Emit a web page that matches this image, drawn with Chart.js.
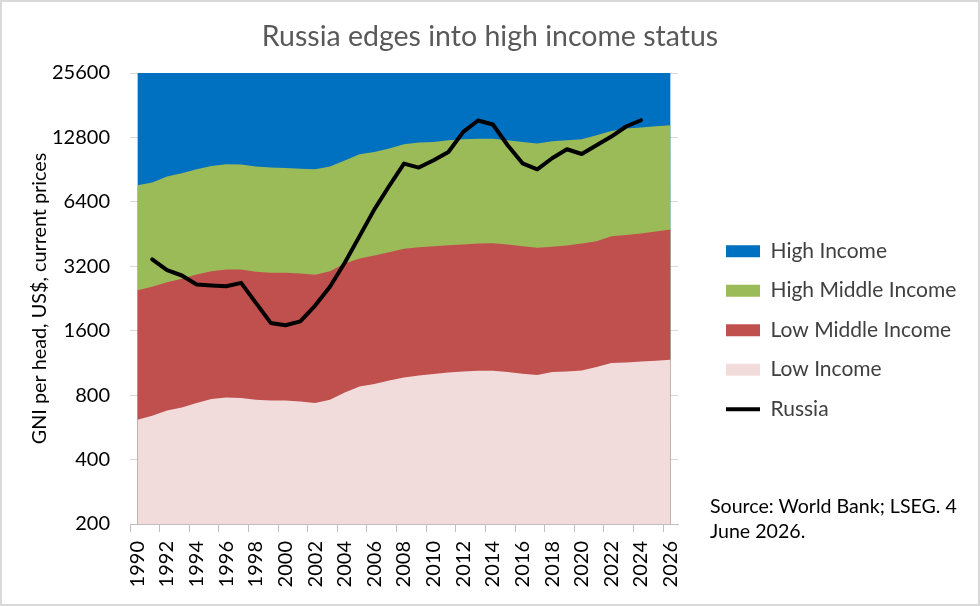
<!DOCTYPE html>
<html>
<head>
  <title>Russia edges into high income status</title>
  <script src="https://cdn.jsdelivr.net/npm/chart.js"></script>
  <style>
    body { margin: 0; background: #fff; font-family: Lato, sans-serif; }
    #wrap { position: relative; width: 980px; height: 606px; }
    #frame { position: absolute; left: 0; top: 0; width: 980px; height: 606px; box-sizing: border-box; border: 2px solid #d9d9d9; pointer-events: none; }
    #source { position: absolute; left: 710px; top: 493px; font-size: 19.6px; line-height: 25px; color: #000; }
  </style>
</head>
<body>
<div id="wrap">
  <canvas id="gniChart" width="980" height="606"></canvas>
  <div id="source">Source: World Bank; LSEG. 4<br>June 2026.</div>
  <div id="frame"></div>
</div>
<script>
const years = ['1990', '1991', '1992', '1993', '1994', '1995', '1996', '1997', '1998', '1999',
  '2000', '2001', '2002', '2003', '2004', '2005', '2006', '2007', '2008', '2009',
  '2010', '2011', '2012', '2013', '2014', '2015', '2016', '2017', '2018', '2019',
  '2020', '2021', '2022', '2023', '2024', '2025', '2026'];

// upper edge of each income band, US$ per head
const lowIncome = [614, 641, 678, 701, 735, 767, 780, 776, 761, 756,
  756, 747, 735, 761, 824, 879, 902, 937, 968, 989,
  1004, 1022, 1033, 1041, 1041, 1026, 1008, 994, 1026, 1033,
  1044, 1083, 1131, 1138, 1150, 1159, 1172];
const lowMiddle = [2473, 2566, 2696, 2797, 2929, 3035, 3092, 3092, 3016, 2984,
  2984, 2962, 2920, 3035, 3299, 3480, 3596, 3726, 3864, 3932,
  3975, 4018, 4048, 4092, 4105, 4048, 3975, 3906, 3950, 4004,
  4092, 4194, 4426, 4475, 4557, 4656, 4758];
const highMiddle = [7647, 7872, 8397, 8702, 9085, 9415, 9588, 9560, 9352, 9254,
  9200, 9140, 9085, 9352, 9980, 10680, 10950, 11350, 11900, 12117,
  12200, 12420, 12550, 12620, 12620, 12420, 12200, 11980, 12300, 12420,
  12550, 13106, 13734, 14088, 14240, 14440, 14600];
const highIncome = [25600, 25600, 25600, 25600, 25600, 25600, 25600, 25600, 25600, 25600,
  25600, 25600, 25600, 25600, 25600, 25600, 25600, 25600, 25600, 25600,
  25600, 25600, 25600, 25600, 25600, 25600, 25600, 25600, 25600, 25600,
  25600, 25600, 25600, 25600, 25600, 25600, 25600];
const russia = [null, 3444, 3068, 2898, 2630, 2602, 2583, 2678, 2159, 1740,
  1696, 1770, 2097, 2566, 3323, 4426, 5902, 7590, 9660, 9254,
  10010, 10950, 13580, 15360, 14710, 11770, 9690, 9085, 10230, 11270,
  10710, 11770, 12920, 14400, 15400, null, null];

const yTicks = [200, 400, 800, 1600, 3200, 6400, 12800, 25600];

const LEGEND_W = 272.5;

Chart.defaults.font.family = 'Lato, sans-serif';

function band(label, data, colour) {
  return {
    label: label,
    data: data,
    backgroundColor: colour,
    borderColor: 'transparent',
    borderWidth: 0,
    fill: 'start',
    pointRadius: 0,
    pointHoverRadius: 0,
    pointStyle: 'rect',
    tension: 0
  };
}

// keep the legend a fixed width so the plot ends where it should
const fixLegendWidth = {
  id: 'fixLegendWidth',
  afterInit(chart) {
    const legend = chart.legend;
    const fit = legend.fit;
    legend.fit = function () {
      fit.call(this);
      this.width = LEGEND_W;
    };
  }
};

const ctx = document.getElementById('gniChart').getContext('2d');
const chart = new Chart(ctx, {
  type: 'line',
  data: {
    labels: years,
    datasets: [
      {
        label: 'Russia',
        data: russia,
        borderColor: '#000',
        backgroundColor: '#000',
        borderWidth: 4,
        borderJoinStyle: 'round',
        borderCapStyle: 'round',
        pointRadius: 0,
        pointHoverRadius: 0,
        pointStyle: 'line',
        fill: false,
        tension: 0
      },
      band('Low Income', lowIncome, '#f2dcdb'),
      band('Low Middle Income', lowMiddle, '#c0504d'),
      band('High Middle Income', highMiddle, '#9bbb59'),
      band('High Income', highIncome, '#0070c0')
    ]
  },
  options: {
    responsive: false,
    animation: false,
    layout: { padding: 0 },
    plugins: {
      title: {
        display: true,
        text: 'Russia edges into high income status',
        color: '#595959',
        font: { size: 28.5, weight: 'normal' },
        padding: { top: 20, bottom: 18.8 }
      },
      legend: {
        position: 'right',
        reverse: true,
        title: { display: true, text: '', padding: { top: 20, bottom: 20 } },
        labels: {
          usePointStyle: true,
          pointStyleWidth: 34,
          boxHeight: 12,
          padding: 18.5,
          color: '#404040',
          font: { size: 21 }
        }
      },
      tooltip: { enabled: false }
    },
    scales: {
      x: {
        type: 'category',
        offset: true,
        afterFit: s => { s.height = 82; },
        grid: {
          offset: true,
          drawOnChartArea: false,
          tickLength: 8,
          tickColor: c => (c.index % 2 === 0 || c.index === years.length) ? '#bfbfbf' : 'rgba(0,0,0,0)'
        },
        border: { display: true, color: '#bfbfbf', width: 1 },
        ticks: {
          autoSkip: false,
          minRotation: 90,
          maxRotation: 90,
          padding: 9,
          color: '#000',
          font: { size: 20 },
          callback: (v, i) => i % 2 === 0 ? years[i] : ''
        }
      },
      y: {
        type: 'logarithmic',
        position: 'left',
        min: 200,
        max: 25600,
        afterFit: s => { s.width = 130; },
        afterBuildTicks: s => { s.ticks = yTicks.map(v => ({ value: v })); },
        grid: { color: '#d9d9d9', drawTicks: false },
        border: { display: false },
        ticks: {
          padding: 20,
          color: '#000',
          font: { size: 20 },
          callback: v => String(v)
        },
        title: {
          display: true,
          text: 'GNI per head, US$, current prices',
          color: '#000',
          font: { size: 19.8 },
          padding: { top: 28, bottom: 0 }
        }
      },
      spacer: {
        type: 'linear',
        position: 'right',
        afterFit: s => { s.width = 29.5; },
        grid: { display: false },
        border: { display: false },
        ticks: { display: false }
      }
    }
  },
  plugins: [fixLegendWidth]
});
</script>
</body>
</html>
